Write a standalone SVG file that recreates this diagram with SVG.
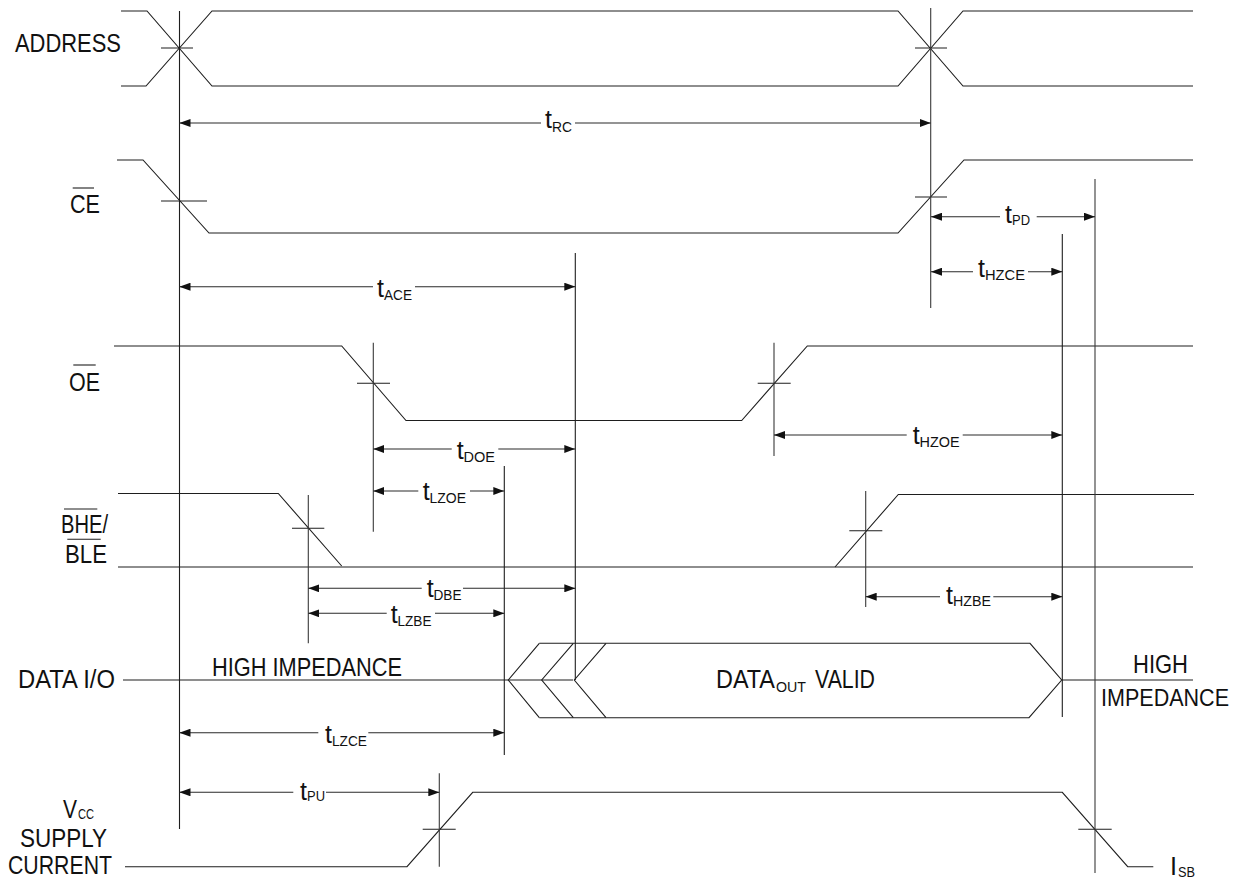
<svg xmlns="http://www.w3.org/2000/svg" width="1241" height="879" viewBox="0 0 1241 879">
<style>
  .w{fill:none;stroke:#1e1e1e;stroke-width:1.1}
  .g{fill:none;stroke:#3a3a3a;stroke-width:1.1}
  .a{fill:none;stroke:#2a2a2a;stroke-width:1.1}
  .ms{marker-start:url(#ah)}
  .me{marker-end:url(#ah)}
  text{font-family:"Liberation Sans",Arial,sans-serif;fill:#111}
  .lb{font-size:25px}
  .t{font-size:25px}
  .s{font-size:15px}
</style>
<defs>
  <marker id="ah" markerUnits="userSpaceOnUse" markerWidth="11" markerHeight="8" refX="11" refY="4" orient="auto-start-reverse">
    <path d="M0,0 L11,4 L0,8 z" fill="#111"/>
  </marker>
</defs>
<rect width="1241" height="879" fill="#fff"/>

<g id="address">
  <text class="lb" x="15" y="52" textLength="106" lengthAdjust="spacingAndGlyphs">ADDRESS</text>
  <path class="w" d="M121,11 H147 L212,86 H898 L963,11 H1193"/>
  <path class="w" d="M121,86 H146 L212,11 H898 L963,86 H1193"/>
  <path class="w" d="M161,48 H193 M915,48 H947"/>
</g>

<g id="ce">
  <text class="lb" x="70" y="213" textLength="30" lengthAdjust="spacingAndGlyphs">CE</text>
  <path class="w" d="M72.7,188 H94"/>
  <path class="w" d="M117,160 H143 L209,233 H898 L964,160 H1193"/>
  <path class="w" d="M161,201 H207 M915,197 H947"/>
</g>

<g id="oe">
  <text class="lb" x="69" y="391" textLength="31" lengthAdjust="spacingAndGlyphs">OE</text>
  <path class="w" d="M73.3,365 H95.7"/>
  <path class="w" d="M114,346 H341.7 L406,420.5 H741.7 L807.3,346 H1193"/>
  <path class="w" d="M357,383.3 H390 M757.7,383.3 H790.7"/>
  <path class="g" d="M373.3,342.7 V531.7 M774,342.7 V456"/>
</g>

<g id="bhe-ble">
  <text class="lb" x="61" y="533" textLength="47" lengthAdjust="spacingAndGlyphs">BHE/</text>
  <text class="lb" x="65" y="563" textLength="42" lengthAdjust="spacingAndGlyphs">BLE</text>
  <path class="w" d="M64,509 H97.3 M67.3,539.3 H100.7"/>
  <path class="w" d="M118,493.5 H278.3 L341.7,566"/>
  <path class="w" d="M118,567 H1193"/>
  <path class="w" d="M835,567 L898.3,494.5 H1194"/>
  <path class="w" d="M292,528.3 H324.3 M849.3,530.7 H882.3"/>
  <path class="g" d="M308.3,495 V643.3 M865.7,491 V607"/>
</g>

<g id="data-io">
  <text class="lb" x="18" y="688" textLength="97" lengthAdjust="spacingAndGlyphs">DATA I/O</text>
  <text class="lb" x="212" y="676" textLength="190" lengthAdjust="spacingAndGlyphs">HIGH IMPEDANCE</text>
  <path class="w" d="M123,680 H573"/>
  <path class="w" d="M539.3,643.3 L508.3,680 L539.3,717.7 M573.3,643.3 L541.7,680 L573.3,717.7 M606,643.3 L574.3,680 L606,717.7"/>
  <path class="w" d="M539.3,643.3 H1030 L1061.7,680 L1029,717.7 H539.3"/>
  <path class="w" d="M1062,680 H1193"/>
  <text class="lb" x="716" y="688" textLength="59" lengthAdjust="spacingAndGlyphs">DATA</text>
  <text class="s" x="776" y="692" textLength="30" lengthAdjust="spacingAndGlyphs">OUT</text>
  <text class="lb" x="815" y="688" textLength="60" lengthAdjust="spacingAndGlyphs">VALID</text>
  <text class="lb" x="1133" y="673" textLength="55" lengthAdjust="spacingAndGlyphs">HIGH</text>
  <text x="1101" y="706" font-size="23" textLength="128" lengthAdjust="spacingAndGlyphs">IMPEDANCE</text>
</g>

<g id="vcc">
  <text class="lb" x="63" y="818" textLength="14" lengthAdjust="spacingAndGlyphs">V</text>
  <text class="s" x="78" y="819" textLength="16" lengthAdjust="spacingAndGlyphs">CC</text>
  <text class="lb" x="20" y="847" textLength="87" lengthAdjust="spacingAndGlyphs">SUPPLY</text>
  <text class="lb" x="8" y="874" textLength="104" lengthAdjust="spacingAndGlyphs">CURRENT</text>
  <path class="w" d="M125,866.7 H407 L472.7,792.3 H1062.3 L1127.7,866.7 H1153.3"/>
  <path class="w" d="M422.7,829.3 H455.7 M1078.3,829.3 H1111.7"/>
  <path class="g" d="M439.3,773.3 V866.7"/>
  <text class="lb" x="1170" y="875" textLength="7" lengthAdjust="spacingAndGlyphs">I</text>
  <text class="s" x="1178" y="877" textLength="17" lengthAdjust="spacingAndGlyphs">SB</text>
</g>

<g id="connectors">
  <path class="w" d="M179.5,11 V829"/>
  <path class="g" d="M930.7,8 V308"/>
  <path class="w" d="M575.3,253 V680"/>
  <path class="w" d="M504.3,466 V755"/>
  <path class="w" d="M1062.3,234 V717"/>
  <path class="g" d="M1095,179 V873"/>

  <path class="a ms" d="M179.5,123 H541"/><path class="a me" d="M575,123 H930.7"/>
  <path class="a ms" d="M179.5,286.7 H373"/><path class="a me" d="M415,286.7 H575.3"/>
  <path class="a ms" d="M931,216.7 H1000"/><path class="a me" d="M1036.7,216.7 H1095"/>
  <path class="a ms" d="M931,271.7 H973"/><path class="a me" d="M1028,271.7 H1062.3"/>
  <path class="a ms" d="M373.3,449 H451.7"/><path class="a me" d="M498.3,449 H575.3"/>
  <path class="a ms" d="M373.3,491 H418.3"/><path class="a me" d="M470,491 H504.3"/>
  <path class="a ms" d="M774,435 H906.7"/><path class="a me" d="M962.7,435 H1062.3"/>
  <path class="a ms" d="M308.3,588.3 H421.7"/><path class="a me" d="M463,588.3 H575.3"/>
  <path class="a ms" d="M308.3,613.3 H386.7"/><path class="a me" d="M435,613.3 H504.3"/>
  <path class="a ms" d="M865.7,596.7 H940"/><path class="a me" d="M993.3,596.7 H1062.3"/>
  <path class="a ms" d="M179.5,732.7 H318.3"/><path class="a me" d="M368.3,732.7 H504.3"/>
  <path class="a ms" d="M179.5,792.3 H293.3"/><path class="a me" d="M326,792.3 H439.3"/>

  <text class="t" x="545" y="128">t</text><text class="s" x="552" y="132" textLength="20" lengthAdjust="spacingAndGlyphs">RC</text>
  <text class="t" x="377" y="297">t</text><text class="s" x="384" y="300" textLength="28" lengthAdjust="spacingAndGlyphs">ACE</text>
  <text class="t" x="1005" y="223">t</text><text class="s" x="1012" y="225" textLength="18" lengthAdjust="spacingAndGlyphs">PD</text>
  <text class="t" x="978" y="277">t</text><text class="s" x="985" y="279.5" textLength="40" lengthAdjust="spacingAndGlyphs">HZCE</text>
  <text class="t" x="456.7" y="459">t</text><text class="s" x="463.5" y="462" textLength="31.5" lengthAdjust="spacingAndGlyphs">DOE</text>
  <text class="t" x="422.7" y="500">t</text><text class="s" x="429.5" y="503" textLength="36.5" lengthAdjust="spacingAndGlyphs">LZOE</text>
  <text class="t" x="912.7" y="444">t</text><text class="s" x="919.5" y="447" textLength="40" lengthAdjust="spacingAndGlyphs">HZOE</text>
  <text class="t" x="426.7" y="597">t</text><text class="s" x="433.5" y="600" textLength="28" lengthAdjust="spacingAndGlyphs">DBE</text>
  <text class="t" x="390.7" y="623">t</text><text class="s" x="397.5" y="625.5" textLength="34" lengthAdjust="spacingAndGlyphs">LZBE</text>
  <text class="t" x="946" y="603.5">t</text><text class="s" x="953" y="606" textLength="38" lengthAdjust="spacingAndGlyphs">HZBE</text>
  <text class="t" x="325" y="743">t</text><text class="s" x="332" y="745.5" textLength="35" lengthAdjust="spacingAndGlyphs">LZCE</text>
  <text class="t" x="300" y="800">t</text><text class="s" x="307" y="801" textLength="18" lengthAdjust="spacingAndGlyphs">PU</text>
</g>
</svg>
